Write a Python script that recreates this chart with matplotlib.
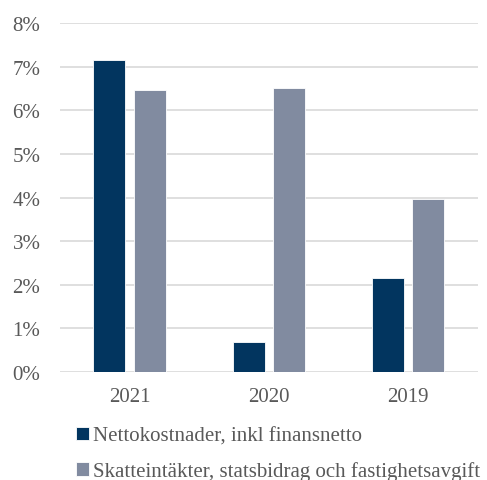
import numpy as np
import matplotlib
matplotlib.use("Agg")
import matplotlib.pyplot as plt

years = ["2021", "2020", "2019"]
netto = [7.15, 0.68, 2.15]
skatt = [6.46, 6.52, 3.97]
labels = ["Nettokostnader, inkl finansnetto",
          "Skatteintäkter, statsbidrag och fastighetsavgift"]

plt.rcParams['font.family'] = ['Liberation Serif', 'DejaVu Serif']
text_col = '#595959'

fig = plt.figure(figsize=(4.87, 4.81), dpi=100)
ax = fig.add_axes([0.123, 0.2245, 0.858, 0.7255])

x = np.arange(len(years))
w = 0.23
off = 0.145
ax.bar(x - off, netto, w, color='#02355F', edgecolor='white', linewidth=0.6,
       label=labels[0], zorder=3)
ax.bar(x + off, skatt, w, color='#818BA0', edgecolor='white', linewidth=0.6,
       label=labels[1], zorder=3)

ax.set_xlim(-0.5, 2.5)
ax.set_ylim(0, 8)
ax.set_yticks(range(0, 9))
ax.set_yticklabels([f"{i}%" for i in range(0, 9)])
ax.set_xticks(x)
ax.set_xticklabels(years)
ax.grid(axis='y', color='#D9D9D9', linewidth=1.2, zorder=0)
for s in ax.spines.values():
    s.set_visible(False)
ax.tick_params(length=0, labelsize=15, colors=text_col)
ax.tick_params(axis='y', pad=14)
ax.tick_params(axis='x', pad=11)

leg = fig.legend(loc='upper left', bbox_to_anchor=(0.139, 0.128), frameon=False,
                 fontsize=15, handlelength=0.6, handleheight=0.6,
                 handletextpad=0.2, labelspacing=0.75, borderaxespad=0)
for t in leg.get_texts():
    t.set_color(text_col)

fig.savefig("out.png", dpi=100)
